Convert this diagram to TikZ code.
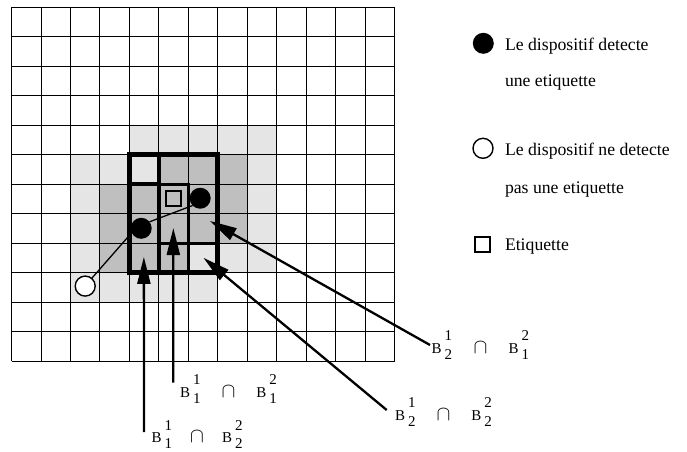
\documentclass[tikz,border=0pt]{standalone}
\usepackage{fontspec}
\setmainfont{Liberation Serif}
\usetikzlibrary{arrows.meta,calc,positioning}

\newcommand{\bset}[2]{B\kern3pt\rlap{\raisebox{12.5pt}{#1}}\raisebox{-6pt}{#2}}
\newcommand{\inter}{{\fontsize{20.74}{20}\selectfont$\cap$}}

\begin{document}
\begin{tikzpicture}[
  x=1pt,y=-1pt,
  every node/.style={inner sep=0pt,outer sep=0pt},
  legendtxt/.style={anchor=base west,font=\fontsize{17.7}{20}\selectfont},
  setlabel/.style={anchor=base west,font=\fontsize{15}{17}\selectfont},
  hit/.style={circle,fill=black,minimum size=21pt},
  miss/.style={circle,draw=black,line width=1.4pt,fill=white,minimum size=20pt},
  tagbox/.style={rectangle,draw=black,line width=2pt,minimum size=15pt},
  gridline/.style={line width=0.9pt},
  ptr/.style={-{Triangle[length=27pt,width=13pt]},line width=2.3pt},
  zonelight/.style={fill=black!10},
  zonedark/.style={fill=black!25}
]
\useasboundingbox (0,0) rectangle (687,451);

\begin{scope}[shift={(11.5,7.2)},x=29.48pt,y=-29.48pt]
  \fill[zonelight] (4,4) rectangle (9,9);
  \fill[zonelight] (2,5) rectangle (7,10);
  \fill[zonedark] (5,5) rectangle (8,8);
  \fill[zonedark] (3,6) rectangle (6,9);
  \foreach \i in {0,...,13} \draw[gridline] (\i,0) -- (\i,12);
  \foreach \j in {0,...,12} \draw[gridline] (0,\j) -- (13,\j);

  % intersections of the zones
  \draw[line width=4.8pt] (4,5) rectangle (7,9);
  \draw[line width=4.8pt] (5,5) -- (5,9) (4,6) -- (5,6);
  \draw[line width=3pt] (5,6) rectangle (6,8) (6,8) -- (6,9) (6,8) -- (7,8);

  \node[tagbox] (tag) at (5.5,6.5) {};
  \node[hit] (hitA) at (6.4,6.48) {};
  \node[hit] (hitB) at (4.4,7.5) {};
  \node[miss] (missA) at (2.5,9.46) {};
  \draw[line width=1.3pt] (missA.50) -- (hitB.205);
  \draw[line width=1.3pt] (hitB.38) -- (hitA.224);

  \coordinate (inA) at (4.49,8.47);
  \coordinate (inB) at (5.49,7.49);
  \coordinate (inC) at (6.73,7.25);
  \coordinate (inD) at (6.51,8.50);
\end{scope}

\node[setlabel] (labA) at (151.7,442.5)
  {\bset{1}{1}\hspace{18pt}\inter\hspace{18pt}\bset{2}{2}};
\node[setlabel] (labB) at (180,397.3)
  {\bset{1}{1}\hspace{21pt}\inter\hspace{21pt}\bset{2}{1}};
\node[setlabel] (labC) at (431.7,353.3)
  {\bset{1}{2}\hspace{21.5pt}\inter\hspace{21pt}\bset{2}{1}};
\node[setlabel] (labD) at (395,420)
  {\bset{1}{2}\hspace{21pt}\inter\hspace{21pt}\bset{2}{2}};

\draw[ptr] ([xshift=-7.7pt,yshift=10.5pt]labA.base west) -- (inA);
\draw[ptr] ([xshift=-6.7pt,yshift=14.6pt]labB.base west) -- (inB);
\draw[ptr] ([xshift=-1.7pt,yshift=8.3pt]labC.base west) -- (inC);
\draw[ptr] ([xshift=-8.3pt,yshift=10pt]labD.base west) -- (inD);

% legend
\node[hit] (keyhit) at (483.3,43.3) {};
\node[legendtxt] (keyhit1) at (505,50.7) {Le dispositif detecte};
\node[legendtxt] (keyhit2) at (505,86.7) {une etiquette};
\node[miss] (keymiss) at (483,148.3) {};
\node[legendtxt] (keymiss1) at (505,155) {Le dispositif ne detecte};
\node[legendtxt] (keymiss2) at (505,193.3) {pas une etiquette};
\node[tagbox] (keytag) at (482.5,244) {};
\node[legendtxt] (keytag1) at (505,250.7) {Etiquette};
\end{tikzpicture}
\end{document}
